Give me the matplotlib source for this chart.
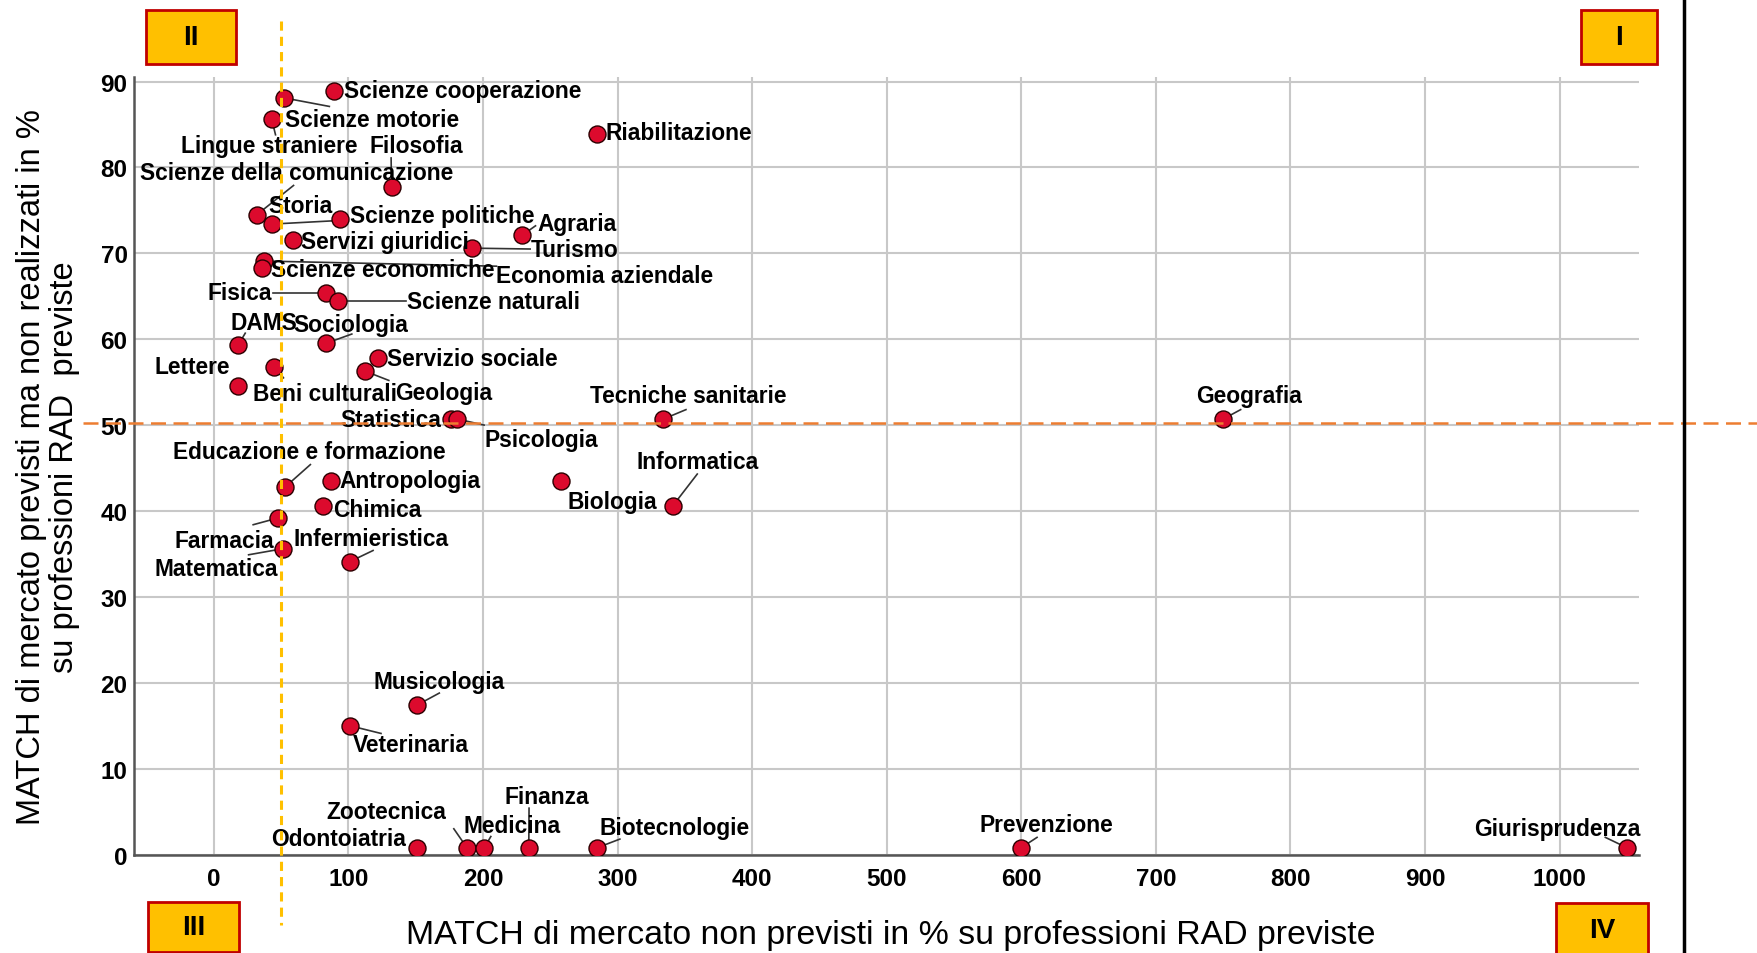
import matplotlib.pyplot as plt
from matplotlib.patches import Rectangle

plt.rcParams['font.family'] = ['Liberation Sans', 'DejaVu Sans']

# corsi di laurea e relativi MATCH
names = ['Scienze cooperazione', 'Scienze motorie', 'Lingue straniere', 'Riabilitazione',
         'Filosofia', 'Scienze della comunicazione', 'Storia', 'Scienze politiche',
         'Servizi giuridici', 'Agraria', 'Turismo', 'Economia aziendale',
         'Scienze economiche', 'Fisica', 'Scienze naturali', 'DAMS', 'Sociologia',
         'Beni culturali', 'Lettere', 'Servizio sociale', 'Geologia', 'Statistica',
         'Psicologia', 'Tecniche sanitarie', 'Geografia', 'Educazione e formazione',
         'Antropologia', 'Biologia', 'Informatica', 'Chimica', 'Farmacia', 'Matematica',
         'Infermieristica', 'Musicologia', 'Veterinaria', 'Odontoiatria', 'Zootecnica',
         'Medicina', 'Finanza', 'Biotecnologie', 'Prevenzione', 'Giurisprudenza']
non_previsti = [89, 52, 43, 285, 132, 32, 43, 94, 59, 229, 192, 37, 36, 83, 92, 18, 83,
                45, 18, 122, 112, 176, 181, 334, 750, 53, 87, 258, 341, 81, 48, 51, 101,
                151, 101, 151, 188, 201, 234, 285, 600, 1050]
previsti_non_realizzati = [88.9, 88.1, 85.6, 83.9, 77.7, 74.5, 73.4, 74.0, 71.5, 72.1, 70.6,
                           69.1, 68.3, 65.4, 64.4, 59.3, 59.5, 56.8, 54.6, 57.8, 56.3, 50.7,
                           50.7, 50.7, 50.7, 42.8, 43.5, 43.5, 40.6, 40.6, 39.2, 35.6, 34.1,
                           17.4, 15.0, 0.8, 0.8, 0.8, 0.8, 0.8, 0.8, 0.8]

x_ticks = list(range(0, 1001, 100))
y_ticks = list(range(0, 91, 10))
soglia_x = 50
soglia_y = 50.3

# posizione etichette: (x, y, allineamento, fine linea guida)
label_layout = {
    'Scienze cooperazione': (96.7, 88.9, 'left', None),
    'Scienze motorie': (52.5, 85.6, 'left', (85.8, 87.1)),
    'Lingue straniere': (-24.2, 82.5, 'left', (45.8, 83.8)),
    'Riabilitazione': (290.8, 84.1, 'left', None),
    'Filosofia': (115.8, 82.5, 'left', (131.7, 81.1)),
    'Scienze della comunicazione': (-55, 79.4, 'left', (59.2, 77.9)),
    'Storia': (40.8, 75.6, 'left', (90.8, 73.8)),
    'Scienze politiche': (100.8, 74.4, 'left', None),
    'Servizi giuridici': (65, 71.4, 'left', None),
    'Agraria': (240.8, 73.5, 'left', (239, 73.2)),
    'Turismo': (235.8, 70.5, 'left', (235, 70.5)),
    'Economia aziendale': (210, 67.4, 'left', (210, 68.5)),
    'Scienze economiche': (42.5, 68.1, 'left', None),
    'Fisica': (43.3, 65.4, 'right', (44, 65.4)),
    'Scienze naturali': (143.3, 64.4, 'left', (142.5, 64.4)),
    'DAMS': (12.5, 61.9, 'left', (23.3, 60.7)),
    'Sociologia': (59.2, 61.7, 'left', (102.5, 60.6)),
    'Beni culturali': (29.2, 53.7, 'left', (51.7, 55.5)),
    'Lettere': (11.7, 56.8, 'right', None),
    'Servizio sociale': (128.3, 57.7, 'left', None),
    'Geologia': (135, 53.8, 'left', (130, 55.2)),
    'Statistica': (169.2, 50.7, 'right', None),
    'Psicologia': (200.8, 48.3, 'left', (200.8, 50.0)),
    'Tecniche sanitarie': (352.5, 53.4, 'center', (350.8, 51.8)),
    'Geografia': (769, 53.4, 'center', (763, 51.8)),
    'Educazione e formazione': (70.8, 46.9, 'center', (71.7, 45.4)),
    'Antropologia': (93.3, 43.5, 'left', None),
    'Biologia': (262.5, 41.1, 'left', None),
    'Informatica': (359.2, 45.8, 'center', (359.2, 44.3)),
    'Chimica': (88.3, 40.2, 'left', None),
    'Farmacia': (45, 36.6, 'right', (29.2, 38.4)),
    'Matematica': (47.5, 33.3, 'right', (25.8, 34.9)),
    'Infermieristica': (59.2, 36.8, 'left', (118.3, 35.4)),
    'Musicologia': (167.5, 20.1, 'center', (167.5, 18.8)),
    'Veterinaria': (146.7, 12.8, 'center', (124.2, 14.1)),
    'Odontoiatria': (142.5, 1.9, 'right', None),
    'Zootecnica': (128.3, 5.0, 'center', (178.3, 3.0)),
    'Medicina': (221.7, 3.4, 'center', (205.8, 2.1)),
    'Finanza': (247.5, 6.7, 'center', (234.2, 5.4)),
    'Biotecnologie': (286.7, 3.1, 'left', (301.7, 1.8)),
    'Prevenzione': (619, 3.5, 'center', (611.7, 2.0)),
    'Giurisprudenza': (998, 3.0, 'center', (1034, 2.0)),
}

fig = plt.figure(figsize=(17.58, 9.54), dpi=100)
ax = fig.add_axes([0.0765, 0.1032, 0.8558, 0.8148])

ax.set_xlim(-59, 1059)
ax.set_ylim(0, 90.5)
ax.set_xticks(x_ticks)
ax.set_yticks(y_ticks)
ax.grid(True, color='#c8c8c8', linewidth=1.5)
ax.set_axisbelow(True)
ax.tick_params(length=0, labelsize=17.5)
ax.tick_params(axis='x', pad=9)
ax.tick_params(axis='y', pad=5)
for lab in ax.get_xticklabels() + ax.get_yticklabels():
    lab.set_fontweight('bold')
for s in ['top', 'right']:
    ax.spines[s].set_visible(False)
for s in ['left', 'bottom']:
    ax.spines[s].set_color('#555555')
    ax.spines[s].set_linewidth(1.8)

# linee guida ed etichette
for name, xv, yv in zip(names, non_previsti, previsti_non_realizzati):
    tx, ty, ha, lead = label_layout[name]
    if lead is not None:
        ax.plot([xv, lead[0]], [yv, lead[1]], color='#333333', lw=1.2, zorder=2)
    ax.text(tx, ty, name, ha=ha, va='center', fontsize=16.4, fontweight='bold',
            color='black', zorder=5)

ax.scatter(non_previsti, previsti_non_realizzati, s=150, color='#dc0a2d',
           edgecolor='#2b0000', linewidth=1.0, zorder=3)

# soglie
ax.plot([soglia_x, soglia_x], [97, -8.2], color='#ffc000', lw=2.2,
        dashes=(3, 2), clip_on=False, zorder=6)
ax.plot([-97, 1160], [soglia_y, soglia_y], color='#ed7d31', lw=1.8,
        dashes=(6, 3), clip_on=False, zorder=6)

ax.set_ylabel('MATCH di mercato previsti ma non realizzati in %\nsu professioni RAD  previste',
              fontsize=23.5, linespacing=1.07)
ax.yaxis.set_label_coords(-0.0365, 0.5)
fig.text(891 / 1758, 1 - 936 / 954,
         'MATCH di mercato non previsti in % su professioni RAD previste',
         ha='center', va='center', fontsize=24.4)

# riquadri dei quadranti
W, H = 1758, 954
boxes = [('II', 146, 11, 90, 54), ('I', 1581, 11, 76, 54),
         ('III', 148, 903, 91, 50), ('IV', 1556, 904, 92, 55)]
for txt, bx, by, bw, bh in boxes:
    fig.patches.append(Rectangle((bx / W, 1 - (by + bh) / H), bw / W, bh / H,
                                 transform=fig.transFigure, facecolor='#ffc000',
                                 edgecolor='#c00000', linewidth=2))
    fig.text((bx + bw / 2) / W, 1 - (by + bh / 2) / H, txt, ha='center', va='center',
             fontsize=20, fontweight='bold')

fig.add_artist(plt.Line2D([1684 / W, 1684 / W], [0, 1], color='black', lw=2.5,
                          transform=fig.transFigure))

fig.savefig('out.png', dpi=100)
